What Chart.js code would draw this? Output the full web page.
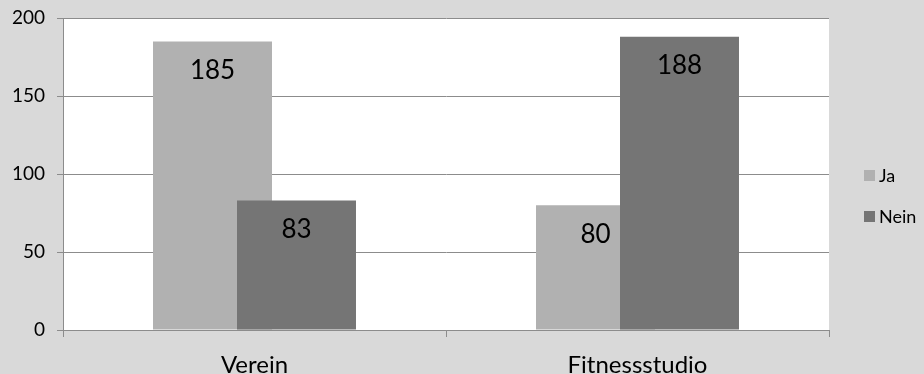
<!DOCTYPE html>
<html>
<head>
<meta charset="utf-8">
<script src="https://cdn.jsdelivr.net/npm/chart.js@4/dist/chart.umd.min.js"></script>
<style>
  html, body { margin: 0; padding: 0; background: #d9d9d9; }
  #wrap { width: 924px; height: 374px; }
</style>
</head>
<body>
<div id="wrap"><canvas id="chart" width="924" height="374"></canvas></div>
<script>
// chart data
const categories = ["Verein", "Fitnessstudio"];
const jaValues = [185, 80];
const neinValues = [83, 188];
const yTicks = [0, 50, 100, 150, 200];

const FONT = "Lato, 'Open Sans', sans-serif";
const gridColor = "#8c8c8c";

// white plot area on grey page
const plotBg = {
  id: "plotBg",
  beforeDraw(chart) {
    const { ctx, chartArea: a } = chart;
    ctx.save();
    ctx.fillStyle = "#d9d9d9";
    ctx.fillRect(0, 0, chart.width, chart.height);
    ctx.fillStyle = "#ffffff";
    ctx.fillRect(a.left, a.top, a.right - a.left, a.bottom - a.top);
    ctx.restore();
  }
};

// bars overlap: draw first dataset first so the second one lies on top
const drawOrder = {
  id: "drawOrder",
  beforeDatasetsDraw(chart) {
    chart.getSortedVisibleDatasetMetas().forEach(meta => meta.controller.draw());
    return false;
  }
};

// value labels inside the bars, near the top
const valueLabels = {
  id: "valueLabels",
  afterDraw(chart) {
    const ctx = chart.ctx;
    ctx.save();
    ctx.font = "26px " + FONT;
    ctx.fillStyle = "#000";
    ctx.textAlign = "center";
    ctx.textBaseline = "middle";
    chart.data.datasets.forEach((ds, i) => {
      chart.getDatasetMeta(i).data.forEach((bar, j) => {
        ctx.fillText(ds.data[j], bar.x, bar.y + 29);
      });
    });
    ctx.restore();
  }
};

// legend on the right
const sideLegend = {
  id: "sideLegend",
  afterDraw(chart) {
    const ctx = chart.ctx;
    const rows = [175, 216];
    ctx.save();
    ctx.font = "18px " + FONT;
    ctx.textBaseline = "middle";
    chart.data.datasets.forEach((ds, i) => {
      ctx.fillStyle = ds.backgroundColor;
      ctx.fillRect(864, rows[i] - 5, 11, 11);
      ctx.fillStyle = "#000";
      ctx.fillText(ds.label, 879, rows[i] + 1);
    });
    ctx.restore();
  }
};

new Chart(document.getElementById("chart").getContext("2d"), {
  type: "bar",
  data: {
    labels: categories,
    datasets: [
      { label: "Ja", data: jaValues, backgroundColor: "#b1b1b1" },
      { label: "Nein", data: neinValues, backgroundColor: "#757575" }
    ]
  },
  options: {
    responsive: false,
    animation: false,
    categoryPercentage: 0.4386,
    barPercentage: 1.4167,
    layout: { padding: { top: 18, right: 95, left: 0, bottom: 0 } },
    plugins: { legend: { display: false }, tooltip: { enabled: false } },
    scales: {
      x: {
        offset: true,
        grid: { offset: true, drawOnChartArea: false, drawTicks: true, tickLength: 7, color: gridColor },
        border: { display: true, color: gridColor },
        ticks: { color: "#000", font: { family: FONT, size: 24 }, padding: 14, maxRotation: 0 },
        afterFit(scale) { scale.height = 44; scale.paddingLeft = 0; scale.paddingRight = 0; }
      },
      y: {
        min: 0,
        max: 200,
        afterBuildTicks(scale) { scale.ticks = yTicks.map(v => ({ value: v })); },
        grid: { color: gridColor, tickLength: 6 },
        border: { display: true, color: gridColor },
        ticks: { color: "#000", font: { family: FONT, size: 19 }, padding: 12 },
        afterFit(scale) { scale.width = 63; scale.paddingTop = 0; scale.paddingBottom = 0; }
      }
    }
  },
  plugins: [plotBg, drawOrder, valueLabels, sideLegend]
});
</script>
</body>
</html>
